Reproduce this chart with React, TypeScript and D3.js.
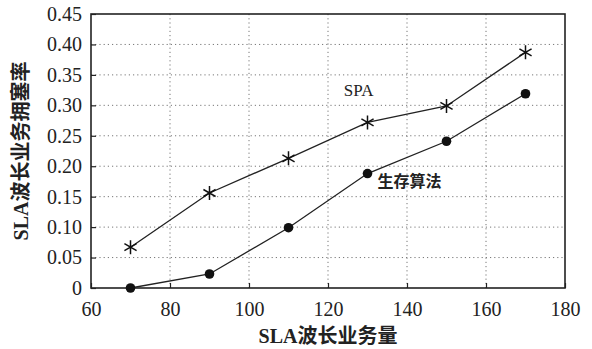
import React, { useEffect, useRef } from 'react';
import * as d3 from 'd3';

// SLA wavelength traffic vs. blocking rate
const loads = [70, 90, 110, 130, 150, 170];
const spaValues = [0.067, 0.156, 0.213, 0.272, 0.299, 0.387];
const survivalValues = [0.0, 0.023, 0.099, 0.188, 0.241, 0.319];
const xTicks = [60, 80, 100, 120, 140, 160, 180];
const yTicks = [0, 0.05, 0.1, 0.15, 0.2, 0.25, 0.3, 0.35, 0.4, 0.45];

const W = 592, H = 349;
const margin = { top: 14, right: 27, bottom: 61, left: 91 };
const FONT = "'Liberation Serif', 'DejaVu Serif', 'Noto Sans CJK SC', serif";

const App = () => {
  const ref = useRef<SVGSVGElement>(null);

  useEffect(() => {
    const svg = d3.select(ref.current);
    svg.selectAll('*').remove();
    const w = W - margin.left - margin.right;
    const h = H - margin.top - margin.bottom;

    const x = d3.scaleLinear().domain([60, 180]).range([0, w]);
    const y = d3.scaleLinear().domain([0, 0.45]).range([h, 0]);

    const g = svg.append('g').attr('transform', `translate(${margin.left},${margin.top})`);

    // dotted grid
    g.append('g').selectAll('line').data(xTicks.slice(1, -1)).enter().append('line')
      .attr('x1', d => x(d)).attr('x2', d => x(d)).attr('y1', 0).attr('y2', h)
      .attr('stroke', '#777').attr('stroke-width', 1).attr('stroke-dasharray', '1.2,3');
    g.append('g').selectAll('line').data(yTicks.slice(1, -1)).enter().append('line')
      .attr('x1', 0).attr('x2', w).attr('y1', d => y(d)).attr('y2', d => y(d))
      .attr('stroke', '#777').attr('stroke-width', 1).attr('stroke-dasharray', '1.2,3');

    // axes with inward ticks
    const xAxis = g.append('g').attr('transform', `translate(0,${h})`)
      .call(d3.axisBottom(x).tickValues(xTicks).tickSize(-5).tickPadding(14).tickFormat(d3.format('d')));
    const yAxis = g.append('g')
      .call(d3.axisLeft(y).tickValues(yTicks).tickSize(-5).tickPadding(9)
        .tickFormat(d => (d === 0 ? '0' : d3.format('.2f')(d as number))));
    [xAxis, yAxis].forEach(a => {
      a.attr('font-family', null).attr('font-size', null);
      a.select('.domain').remove();
      a.selectAll('line').attr('stroke', '#222').attr('stroke-width', 1.2);
      a.selectAll('text').style('font-family', FONT).style('font-size', '20px').attr('fill', '#222');
    });

    // frame
    g.append('rect').attr('width', w).attr('height', h)
      .attr('fill', 'none').attr('stroke', '#222').attr('stroke-width', 1.6);

    const line = d3.line<number>().x((_, i) => x(loads[i])).y(d => y(d));

    g.append('path').datum(spaValues).attr('d', line)
      .attr('fill', 'none').attr('stroke', '#222').attr('stroke-width', 1.3);
    g.append('path').datum(survivalValues).attr('d', line)
      .attr('fill', 'none').attr('stroke', '#222').attr('stroke-width', 1.3);

    // asterisk markers
    const r = 7;
    const star = `M0,${-r}L0,${r}M${-r * 0.87},${-r * 0.5}L${r * 0.87},${r * 0.5}M${-r * 0.87},${r * 0.5}L${r * 0.87},${-r * 0.5}`;
    g.append('g').selectAll('path').data(spaValues).enter().append('path')
      .attr('transform', (d, i) => `translate(${x(loads[i])},${y(d)})`)
      .attr('d', star).attr('stroke', '#111').attr('stroke-width', 1.5).attr('fill', 'none');

    g.append('g').selectAll('circle').data(survivalValues).enter().append('circle')
      .attr('cx', (_, i) => x(loads[i])).attr('cy', d => y(d)).attr('r', 4.8).attr('fill', '#111');

    // series labels
    g.append('text').attr('x', x(124)).attr('y', y(0.316)).text('SPA')
      .style('font-family', FONT).style('font-size', '17px').attr('fill', '#222');
    g.append('text').attr('x', x(132.5)).attr('y', y(0.166)).text('生存算法')
      .style('font-family', FONT).style('font-size', '16px').attr('font-weight', 'bold').attr('fill', '#222');

    // axis titles
    svg.append('text').attr('x', margin.left + w / 2).attr('y', 343).attr('text-anchor', 'middle')
      .style('font-family', FONT).style('font-size', '20px').attr('font-weight', 'bold').attr('fill', '#222')
      .text('SLA波长业务量');
    svg.append('text').attr('transform', `translate(28,${margin.top + h / 2}) rotate(-90)`)
      .attr('text-anchor', 'middle')
      .style('font-family', FONT).style('font-size', '20px').attr('font-weight', 'bold').attr('fill', '#222')
      .text('SLA波长业务拥塞率');
  }, []);

  return (
    <div style={{ position: 'fixed', left: 0, top: 0 }}>
      <svg ref={ref} width={W} height={H} style={{ display: 'block', background: '#fff' }} />
    </div>
  );
};

export default App;
